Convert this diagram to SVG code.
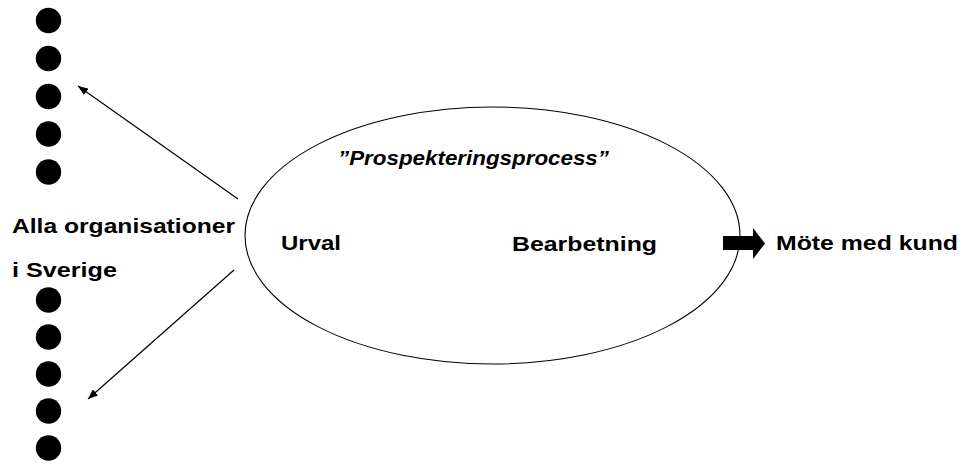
<svg xmlns="http://www.w3.org/2000/svg" width="962" height="463" viewBox="0 0 962 463">
<style>
.t{font-family:"Liberation Sans",Arial,sans-serif;font-weight:bold;font-size:21px;fill:#000}
.i{font-style:italic}
.dot{fill:#000}
.ln{stroke:#000;stroke-width:1.2;fill:none}
</style>
<defs>
<marker id="ah" viewBox="0 0 10 8" refX="10" refY="4" markerWidth="10" markerHeight="8" markerUnits="userSpaceOnUse" orient="auto">
<path d="M0,0 L10,4 L0,8 z" fill="#000"/>
</marker>
</defs>
<rect width="962" height="463" fill="#fff"/>
<g id="dots-top">
<circle class="dot" cx="48.5" cy="20.5" r="12.7"/>
<circle class="dot" cx="48.5" cy="58.5" r="12.7"/>
<circle class="dot" cx="48.5" cy="96.5" r="12.7"/>
<circle class="dot" cx="48.5" cy="134" r="12.7"/>
<circle class="dot" cx="48.5" cy="172" r="12.7"/>
</g>
<g id="dots-bottom">
<circle class="dot" cx="48.5" cy="300" r="12.7"/>
<circle class="dot" cx="48.5" cy="337" r="12.7"/>
<circle class="dot" cx="48.5" cy="374" r="12.7"/>
<circle class="dot" cx="48.5" cy="411" r="12.7"/>
<circle class="dot" cx="48.5" cy="448" r="12.7"/>
</g>
<g id="label-org">
<text class="t" x="12" y="233" textLength="223" lengthAdjust="spacingAndGlyphs">Alla organisationer</text>
<text class="t" x="12" y="277" textLength="105" lengthAdjust="spacingAndGlyphs">i Sverige</text>
</g>
<g id="process">
<ellipse cx="492.5" cy="235.5" rx="247.5" ry="128.5" fill="none" stroke="#000" stroke-width="1.1"/>
<text class="t i" x="338" y="165" textLength="271" lengthAdjust="spacingAndGlyphs">”Prospekteringsprocess”</text>
<text class="t" x="281" y="250" textLength="60" lengthAdjust="spacingAndGlyphs">Urval</text>
<text class="t" x="512" y="251" textLength="145" lengthAdjust="spacingAndGlyphs">Bearbetning</text>
</g>
<g id="meeting">
<text class="t" x="776" y="250" textLength="182" lengthAdjust="spacingAndGlyphs">Möte med kund</text>
</g>
<g id="connectors">
<line class="ln" x1="238" y1="199" x2="78" y2="86" marker-end="url(#ah)"/>
<line class="ln" x1="234" y1="270" x2="88" y2="399" marker-end="url(#ah)"/>
<polygon points="723,236 753,236 753,228 765,243.5 753,259 753,250 723,250" fill="#000"/>
</g>
</svg>
